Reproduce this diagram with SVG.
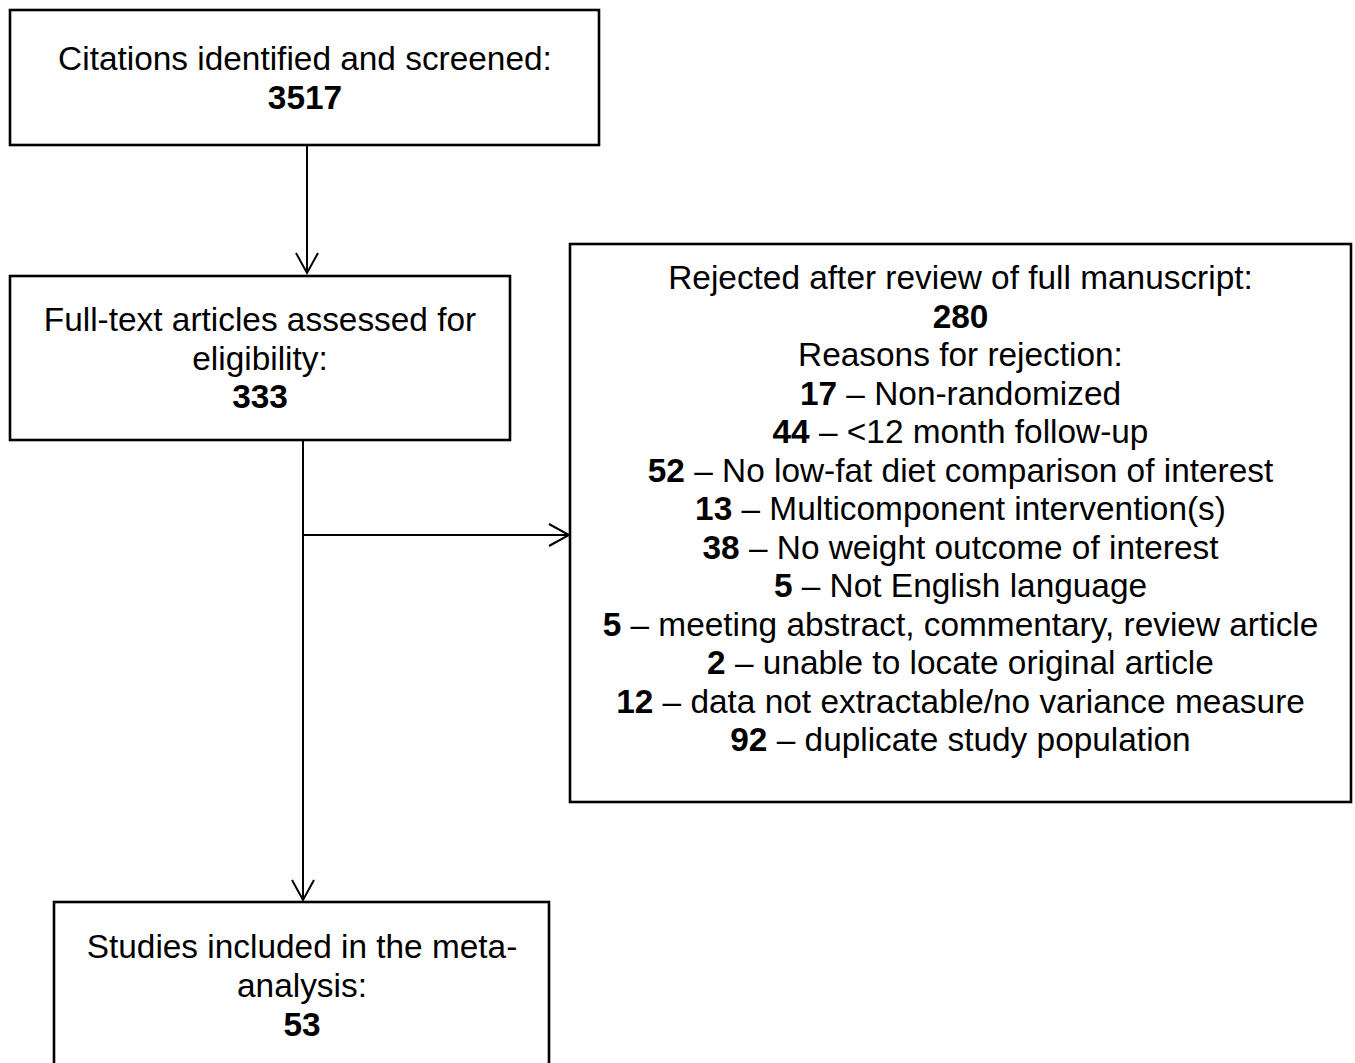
<svg xmlns="http://www.w3.org/2000/svg" width="1355" height="1063" viewBox="0 0 1355 1063">
<style>
.box{fill:#fff;stroke:#000;stroke-width:2.6}
.t{font-family:"Liberation Sans",Arial,sans-serif;font-size:33.4px;fill:#000;text-anchor:middle}
.b{font-weight:bold}
.c{fill:none;stroke:#000;stroke-width:2}
</style>
<defs>
<marker id="arr" markerWidth="24" markerHeight="28" refX="21" refY="12" orient="auto" markerUnits="userSpaceOnUse">
<path d="M1,1 L21,12 L1,23" fill="none" stroke="#000" stroke-width="2"/>
</marker>
</defs>
<rect width="1355" height="1063" fill="#fff"/>
<g id="connectors">
<line class="c" x1="307" y1="145" x2="307" y2="273" marker-end="url(#arr)"/>
<line class="c" x1="303" y1="441" x2="303" y2="900" marker-end="url(#arr)"/>
<line class="c" x1="303" y1="535" x2="569" y2="535" marker-end="url(#arr)"/>
</g>
<g id="n1">
<rect class="box" x="10" y="10" width="589" height="135"/>
<text class="t" x="305" y="70">Citations identified and screened:</text>
<text class="t b" x="305" y="109">3517</text>
</g>
<g id="n2">
<rect class="box" x="10" y="276" width="500" height="164"/>
<text class="t" x="260" y="331">Full-text articles assessed for</text>
<text class="t" x="260" y="370">eligibility:</text>
<text class="t b" x="260" y="408">333</text>
</g>
<g id="n3">
<rect class="box" x="570" y="244" width="781" height="558"/>
<text class="t" x="960.5" y="289">Rejected after review of full manuscript:</text>
<text class="t b" x="960.5" y="327.5">280</text>
<text class="t" x="960.5" y="366">Reasons for rejection:</text>
<text class="t" x="960.5" y="404.5"><tspan class="b">17</tspan> – Non-randomized</text>
<text class="t" x="960.5" y="443"><tspan class="b">44</tspan> – &lt;12 month follow-up</text>
<text class="t" x="960.5" y="481.5"><tspan class="b">52</tspan> – No low-fat diet comparison of interest</text>
<text class="t" x="960.5" y="520"><tspan class="b">13</tspan> – Multicomponent intervention(s)</text>
<text class="t" x="960.5" y="558.5"><tspan class="b">38</tspan> – No weight outcome of interest</text>
<text class="t" x="960.5" y="597"><tspan class="b">5</tspan> – Not English language</text>
<text class="t" x="960.5" y="635.5"><tspan class="b">5</tspan> – meeting abstract, commentary, review article</text>
<text class="t" x="960.5" y="674"><tspan class="b">2</tspan> – unable to locate original article</text>
<text class="t" x="960.5" y="712.5"><tspan class="b">12</tspan> – data not extractable/no variance measure</text>
<text class="t" x="960.5" y="751"><tspan class="b">92</tspan> – duplicate study population</text>
</g>
<g id="n4">
<rect class="box" x="54" y="902" width="495" height="180"/>
<text class="t" x="302" y="958">Studies included in the meta-</text>
<text class="t" x="302" y="997">analysis:</text>
<text class="t b" x="302" y="1036">53</text>
</g>
</svg>
